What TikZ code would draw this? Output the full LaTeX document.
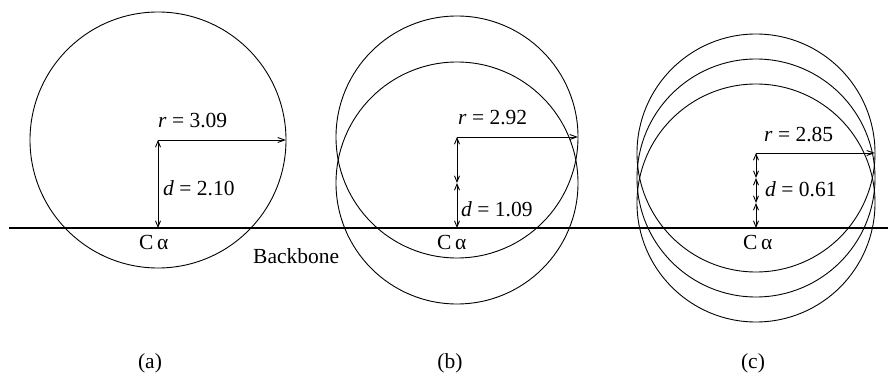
\documentclass[tikz,border=0pt]{standalone}
\usepackage{fontspec}
\setmainfont{Liberation Serif}
\usetikzlibrary{arrows.meta}

\begin{document}
\begin{tikzpicture}[x=1pt, y=1pt,
    every node/.style={font=\fontsize{21.5}{25}\selectfont, inner sep=0pt},
    ring/.style={line width=0.9pt},
    arr/.style={line width=0.9pt, -{Straight Barb[length=7pt, width=5pt]}},
    dim/.style={line width=0.9pt, {Straight Barb[length=6pt, width=5pt]}-{Straight Barb[length=6pt, width=5pt]}}]
      \useasboundingbox (0,0) rectangle (894,375);
      % backbone
      \coordinate (bbl) at (9,147);
      \coordinate (bbr) at (888,147);
      \draw[line width=2.4pt] (bbl) -- (bbr);
      \node[anchor=base west] (backbone) at (253,111) {Backbone};

      % (a)
      \coordinate (caa) at (158,147);
      \coordinate (ctra) at (158,235);
      \coordinate (rima) at (286,235);
      \draw[ring] (ctra) circle (128);
      \draw[arr] (ctra) -- (rima);
      \draw[dim] (ctra) -- (caa);
      \node[anchor=base west] (ra) at (158,247) {\textit{r} = 3.09};
      \node[anchor=base west] (da) at (163,179) {\textit{d} = 2.10};
      \node[anchor=base west] (cala) at (139,125) {C\,α};
      \node[anchor=base] (capa) at (150,7) {(a)};

      % (b)
      \coordinate (cab) at (457,147);
      \coordinate (ctrb1) at (457,192);
      \coordinate (ctrb2) at (457,238);
      \coordinate (rimb) at (578,238);
      \draw[ring] (ctrb1) circle (121);
      \draw[ring] (ctrb2) circle (121);
      \draw[arr] (ctrb2) -- (rimb);
      \draw[dim] (ctrb1) -- (cab);
      \draw[dim] (ctrb2) -- (ctrb1);
      \node[anchor=base west] (rb) at (458,250) {\textit{r} = 2.92};
      \node[anchor=base west] (db) at (461,158) {\textit{d} = 1.09};
      \node[anchor=base west] (calb) at (437,125) {C\,α};
      \node[anchor=base] (capb) at (450,7) {(b)};

      % (c)
      \coordinate (cac) at (756,147);
      \coordinate (ctrc1) at (756,172);
      \coordinate (ctrc2) at (756,197);
      \coordinate (ctrc3) at (756,222);
      \coordinate (rimc) at (875,222);
      \foreach \k in {1,2,3}
        \draw[ring] (ctrc\k) circle (119);
      \draw[arr] (ctrc3) -- (rimc);
      \draw[dim] (ctrc1) -- (cac);
      \draw[dim] (ctrc2) -- (ctrc1);
      \draw[dim] (ctrc3) -- (ctrc2);
      \node[anchor=base west] (rc) at (764,233) {\textit{r} = 2.85};
      \node[anchor=base west] (dc) at (765,178) {\textit{d} = 0.61};
      \node[anchor=base west] (calc) at (743,125) {C\,α};
      \node[anchor=base] (capc) at (753,7) {(c)};
    \end{tikzpicture}
\end{document}
